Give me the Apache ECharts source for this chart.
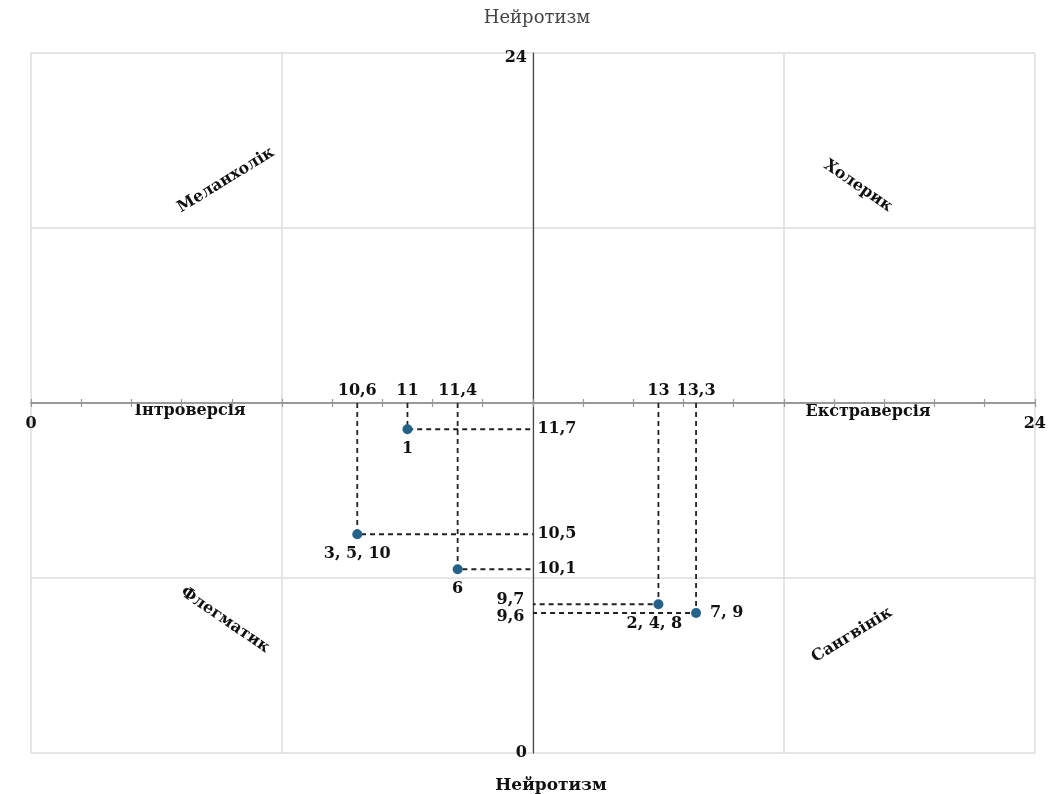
<!DOCTYPE html>
<html>
<head>
<meta charset="utf-8">
<script src="https://cdn.jsdelivr.net/npm/echarts@6/dist/echarts.min.js"></script>
<style>
  html, body { margin: 0; background: #fff; }
  #main { width: 1049px; height: 794px; }
</style>
</head>
<body>
<div id="main"></div>
<script>
// вісі: внутрішня шкала 8..16, на краях підписано 0 і 24
const axisMin = 8
const axisMax = 16
const axisCenter = 12
const edgeLabels = { 8: '0', 16: '24' }

// точки (Екстраверсія, Нейротизм) і номери респондентів
const pointX = [11, 10.6, 11.4, 13, 13.3]
const pointY = [11.7, 10.5, 10.1, 9.7, 9.6]
const pointNames = ['1', '3, 5, 10', '6', '2, 4, 8', '7, 9']

// підписи значень на осях
const xValueLabels = [10.6, 11, 11.4, 13, 13.3]
const yValueLabels = [11.7, 10.5, 10.1, 9.7, 9.6]

const font = 'DejaVu Serif'
const textColor = '#111'
const gridColor = '#dcdcdc'
const comma = v => String(v).replace('.', ',')

// розташування підписів (лише стиль)
const pointLabelPos = [
  { position: 'bottom', distance: 7 },
  { position: 'bottom', distance: 7 },
  { position: 'bottom', distance: 7 },
  { position: 'bottom', distance: 7, offset: [-4, 0] },
  { position: 'right', distance: 9 }
]
const yLabelPos = [
  { position: 'right', distance: 4 },
  { position: 'right', distance: 4 },
  { position: 'right', distance: 4 },
  { position: 'left', distance: 8, offset: [0, -4] },
  { position: 'left', distance: 8, offset: [0, 4] }
]

const myChart = echarts.init(document.getElementById('main'))

const labelStyle = {
  show: true,
  color: textColor,
  opacity: 1,
  textBorderWidth: 0,
  fontFamily: font,
  fontWeight: 'bold',
  fontSize: 16
}

// пунктирні лінії від точки до осей
const guideSeries = pointX.map((x, i) => ({
  type: 'line',
  data: [[x, axisCenter], [x, pointY[i]], [axisCenter, pointY[i]]],
  symbol: 'none',
  silent: true,
  z: 3,
  lineStyle: { color: '#222', width: 1.8, type: [5, 4] }
}))

let option = {
  animation: false,
  backgroundColor: '#fff',
  grid: { left: 31, right: 14, top: 53, bottom: 41 },
  xAxis: [
    {
      type: 'value',
      position: 'bottom',
      min: axisMin,
      max: axisMax,
      interval: 0.4,
      offset: -350,
      axisLine: { show: true, lineStyle: { color: '#999', width: 2 } },
      axisTick: { show: true, length: 4, lineStyle: { color: '#999', width: 1.2 } },
      axisLabel: {
        ...labelStyle,
        margin: 13,
        showMinLabel: true,
        showMaxLabel: true,
        formatter: v => edgeLabels[v] || ''
      },
      splitLine: { show: false },
      z: 2
    },
    {
      type: 'value',
      position: 'bottom',
      min: axisMin,
      max: axisMax,
      interval: 0.4,
      offset: -350,
      axisLine: { show: false },
      axisTick: { show: true, inside: true, length: 4, lineStyle: { color: '#999', width: 1.2 } },
      axisLabel: { show: false },
      splitLine: { show: false }
    },
    {
      type: 'value',
      position: 'bottom',
      min: axisMin,
      max: axisMax,
      interval: 2,
      axisLine: { show: false },
      axisTick: { show: false },
      axisLabel: { show: false },
      splitLine: { show: true, lineStyle: { color: gridColor, width: 1.5 } }
    }
  ],
  yAxis: {
    type: 'value',
    position: 'left',
    min: axisMin,
    max: axisMax,
    interval: 2,
    offset: -502,
    axisLine: { show: true, lineStyle: { color: '#444', width: 1.2 } },
    axisTick: { show: false },
    axisLabel: {
      ...labelStyle,
      margin: 6,
      showMinLabel: true,
      showMaxLabel: true,
      formatter: v => (v === axisMax ? '{top|24}' : edgeLabels[v] || ''),
      rich: { top: { fontFamily: font, fontWeight: 'bold', fontSize: 16, color: textColor, padding: [10, 0, 0, 0] } }
    },
    splitLine: { show: true, lineStyle: { color: gridColor, width: 1.5 } }
  },
  series: [
    ...guideSeries,
    {
      type: 'scatter',
      name: 'points',
      data: pointX.map((x, i) => ({
        value: [x, pointY[i]],
        name: pointNames[i],
        label: { ...labelStyle, ...pointLabelPos[i], formatter: '{b}' }
      })),
      symbolSize: 10,
      itemStyle: { color: '#25628a', opacity: 1 },
      z: 5
    },
    {
      type: 'scatter',
      name: 'x values',
      data: xValueLabels.map(x => [x, axisCenter]),
      symbolSize: 1,
      itemStyle: { color: '#fff', opacity: 0 },
      silent: true,
      label: { ...labelStyle, position: 'top', distance: 4, formatter: p => comma(p.value[0]) },
      z: 6
    },
    {
      type: 'scatter',
      name: 'y values',
      data: yValueLabels.map((y, i) => ({
        value: [axisCenter, y],
        label: { ...labelStyle, ...yLabelPos[i], formatter: p => comma(p.value[1]) }
      })),
      symbolSize: 1,
      itemStyle: { color: '#fff', opacity: 0 },
      silent: true,
      z: 6
    }
  ],
  graphic: {
    elements: [
      { type: 'text', x: 537, y: 18, style: { text: 'Нейротизм', font: 'normal 18px "DejaVu Serif"', fill: '#444', align: 'center', verticalAlign: 'middle' } },
      { type: 'text', x: 551, y: 786, style: { text: 'Нейротизм', font: 'bold 17px "DejaVu Serif"', fill: textColor, align: 'center', verticalAlign: 'middle' } },
      { type: 'text', x: 190, y: 411, style: { text: 'Інтроверсія', font: 'bold 16px "DejaVu Serif"', fill: textColor, align: 'center', verticalAlign: 'middle' } },
      { type: 'text', x: 868, y: 412, style: { text: 'Екстраверсія', font: 'bold 16px "DejaVu Serif"', fill: textColor, align: 'center', verticalAlign: 'middle' } },
      { type: 'text', x: 226, y: 180, rotation: 0.55, style: { text: 'Меланхолік', font: 'bold 16px "DejaVu Serif"', fill: textColor, align: 'center', verticalAlign: 'middle' } },
      { type: 'text', x: 858, y: 186, rotation: -0.6, style: { text: 'Холерик', font: 'bold 16px "DejaVu Serif"', fill: textColor, align: 'center', verticalAlign: 'middle' } },
      { type: 'text', x: 225, y: 620, rotation: -0.6, style: { text: 'Флегматик', font: 'bold 16px "DejaVu Serif"', fill: textColor, align: 'center', verticalAlign: 'middle' } },
      { type: 'text', x: 852, y: 635, rotation: 0.55, style: { text: 'Сангвінік', font: 'bold 16px "DejaVu Serif"', fill: textColor, align: 'center', verticalAlign: 'middle' } }
    ]
  }
}
myChart.setOption(option)
</script>
</body>
</html>
